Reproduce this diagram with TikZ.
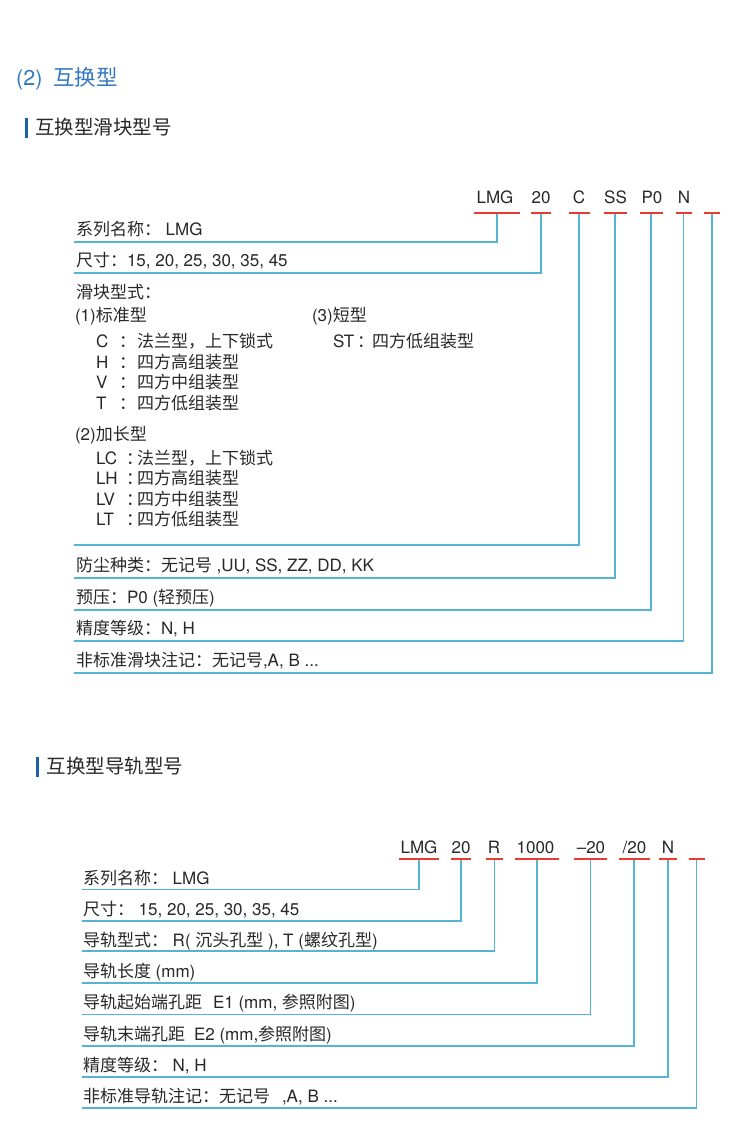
\documentclass[tikz,border=0pt]{standalone}
\usepackage{fontspec}
\setmainfont{TeX Gyre Heros}
\newfontfamily\cjk{Noto Sans CJK SC}
\newcommand\zh[1]{{\cjk #1}}
\definecolor{lineblue}{RGB}{84,180,214}
\definecolor{barred}{RGB}{232,58,48}
\definecolor{txtgray}{RGB}{40,40,40}
\definecolor{titleblue}{RGB}{50,120,190}
\definecolor{markblue}{RGB}{27,98,173}
\begin{document}
\begin{tikzpicture}[x=1pt,y=-1pt,
  txt/.style={anchor=base west, inner sep=0pt, outer sep=0pt, text=txtgray, font=\fontsize{17}{20}\selectfont},
  code/.style={anchor=base, inner sep=0pt, outer sep=0pt, text=txtgray, font=\fontsize{17}{20}\selectfont},
  redbar/.style={fill=barred, draw=none, inner sep=0pt, outer sep=0pt, minimum height=2.4pt},
  conn/.style={draw=lineblue, line width=1.3pt},
  headmark/.style={fill=markblue, draw=none, inner sep=0pt, minimum width=3pt, minimum height=20pt},
  head/.style={anchor=base west, inner sep=0pt, text=txtgray, font=\fontsize{19.5}{22}\selectfont}
]
\useasboundingbox[fill=white] (0,0) rectangle (750,1135);

% title
\node[anchor=base west, inner sep=0pt, text=titleblue, font=\fontsize{21.5}{24}\selectfont] (title) at (16,85) {(2)\hspace{11pt}\zh{互换型}};

% ===== section 1 =====
\node[headmark] (m1) at (26.5,128) {};
\node[head] (h1) at (35,134) {\zh{互换型滑块型号}};

\node[code] (a1) at (495,203.3) {LMG};
\node[code] (a2) at (541,203.3) {20};
\node[code] (a3) at (579,203.3) {C};
\node[code] (a4) at (615.5,203.3) {SS};
\node[code] (a5) at (652,203.3) {P0};
\node[code] (a6) at (684,203.3) {N};

\node[redbar, minimum width=46pt] (r1) at (497,212.7) {};
\node[redbar, minimum width=20pt] (r2) at (541,212.7) {};
\node[redbar, minimum width=21pt] (r3) at (579,212.7) {};
\node[redbar, minimum width=23pt] (r4) at (615,212.7) {};
\node[redbar, minimum width=23pt] (r5) at (651,212.7) {};
\node[redbar, minimum width=16pt] (r6) at (683.5,212.7) {};
\node[redbar, minimum width=16pt] (r7) at (712,212.7) {};

\coordinate (e1) at (74,242);
\coordinate (e2) at (74,273);
\coordinate (e3) at (74,545);
\coordinate (e4) at (74,578);
\coordinate (e5) at (74,610);
\coordinate (e6) at (74,641);
\coordinate (e7) at (74,673);

\draw[conn] (r1.south) |- (e1);
\draw[conn] (r2.south) |- (e2);
\draw[conn] (r3.south) |- (e3);
\draw[conn] (r4.south) |- (e4);
\draw[conn] (r5.south) |- (e5);
\draw[conn] (r6.south) |- (e6);
\draw[conn] (r7.south) |- (e7);

\node[txt] (t1) at (76,235) {\zh{系列名称：} LMG};
\node[txt] (t2) at (76,266) {\zh{尺寸：}15, 20, 25, 30, 35, 45};
\node[txt] (t3) at (76,298) {\zh{滑块型式：}};
\node[txt] (t4) at (75,321) {(1)\zh{标准型}};
\node[txt] (t5) at (312,321) {(3)\zh{短型}};

\node[txt] (k1) at (96,347.5) {C};
\node[txt] (k1c) at (119,347.5) {\zh{：}};
\node[txt] (k1t) at (137,347.5) {\zh{法兰型，上下锁式}};
\node[txt] (k2) at (96,368) {H};
\node[txt] (k2c) at (119,368) {\zh{：}};
\node[txt] (k2t) at (137,368) {\zh{四方高组装型}};
\node[txt] (k3) at (96,388.5) {V};
\node[txt] (k3c) at (119,388.5) {\zh{：}};
\node[txt] (k3t) at (137,388.5) {\zh{四方中组装型}};
\node[txt] (k4) at (96,409) {T};
\node[txt] (k4c) at (119,409) {\zh{：}};
\node[txt] (k4t) at (137,409) {\zh{四方低组装型}};

\node[txt] (s1) at (333,347.5) {ST};
\node[txt] (s1c) at (357,347.5) {\zh{：}};
\node[txt] (s1t) at (372,347.5) {\zh{四方低组装型}};

\node[txt] (t6) at (75,440) {(2)\zh{加长型}};
\node[txt] (l1) at (96,464) {LC};
\node[txt] (l1c) at (126,464) {\zh{：}};
\node[txt] (l1t) at (137,464) {\zh{法兰型，上下锁式}};
\node[txt] (l2) at (96,484.5) {LH};
\node[txt] (l2c) at (126,484.5) {\zh{：}};
\node[txt] (l2t) at (137,484.5) {\zh{四方高组装型}};
\node[txt] (l3) at (96,505) {LV};
\node[txt] (l3c) at (126,505) {\zh{：}};
\node[txt] (l3t) at (137,505) {\zh{四方中组装型}};
\node[txt] (l4) at (96,525.5) {LT};
\node[txt] (l4c) at (126,525.5) {\zh{：}};
\node[txt] (l4t) at (137,525.5) {\zh{四方低组装型}};

\node[txt] (t7) at (76,571) {\zh{防尘种类：无记号} ,UU, SS, ZZ, DD, KK};
\node[txt] (t8) at (76,603) {\zh{预压：}P0 (\zh{轻预压})};
\node[txt] (t9) at (76,634) {\zh{精度等级：}N, H};
\node[txt] (t10) at (76,666) {\zh{非标准滑块注记：无记号},A, B ...};

% ===== section 2 =====
\node[headmark] (m2) at (37.5,767) {};
\node[head] (h2) at (46.5,773) {\zh{互换型导轨型号}};

\node[code] (b1) at (419,853) {LMG};
\node[code] (b2) at (461,853) {20};
\node[code] (b3) at (494,853) {R};
\node[code] (b4) at (535.5,853) {1000};
\node[code] (b5) at (591,853) {–20};
\node[code] (b6) at (634.5,853) {/20};
\node[code] (b7) at (668,853) {N};

\node[redbar, minimum width=40pt] (q1) at (419,859) {};
\node[redbar, minimum width=20pt] (q2) at (461,859) {};
\node[redbar, minimum width=17pt] (q3) at (494.5,859) {};
\node[redbar, minimum width=44pt] (q4) at (537,859) {};
\node[redbar, minimum width=33pt] (q5) at (590.5,859) {};
\node[redbar, minimum width=31pt] (q6) at (634,859) {};
\node[redbar, minimum width=18pt] (q7) at (668,859) {};
\node[redbar, minimum width=16pt] (q8) at (696.5,859) {};

\coordinate (f1) at (82,889.5);
\coordinate (f2) at (82,921);
\coordinate (f3) at (82,951);
\coordinate (f4) at (82,983);
\coordinate (f5) at (82,1014.5);
\coordinate (f6) at (82,1046);
\coordinate (f7) at (82,1077);
\coordinate (f8) at (82,1108);

\draw[conn] (q1.south) |- (f1);
\draw[conn] (q2.south) |- (f2);
\draw[conn] (q3.south) |- (f3);
\draw[conn] (q4.south) |- (f4);
\draw[conn] (q5.south) |- (f5);
\draw[conn] (q6.south) |- (f6);
\draw[conn] (q7.south) |- (f7);
\draw[conn] (q8.south) |- (f8);

\node[txt] (u1) at (83,884) {\zh{系列名称：} LMG};
\node[txt] (u2) at (83,915) {\zh{尺寸：} 15, 20, 25, 30, 35, 45};
\node[txt] (u3) at (83,946) {\zh{导轨型式：} R( \zh{沉头孔型} ), T (\zh{螺纹孔型})};
\node[txt] (u4) at (83,977) {\zh{导轨长度} (mm)};
\node[txt] (u5) at (83,1008.5) {\zh{导轨起始端孔距}\hspace{11pt}E1 (mm, \zh{参照附图})};
\node[txt] (u6) at (83,1040) {\zh{导轨末端孔距}\hspace{9pt}E2 (mm,\zh{参照附图})};
\node[txt] (u7) at (83,1071) {\zh{精度等级：} N, H};
\node[txt] (u8) at (83,1102) {\zh{非标准导轨注记：无记号}\hspace{12pt},A, B ...};
\end{tikzpicture}
\end{document}
